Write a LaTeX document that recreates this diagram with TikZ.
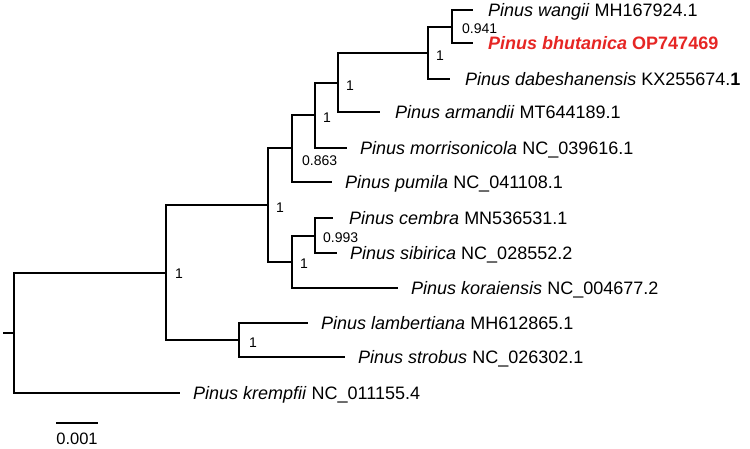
\documentclass[tikz,border=0pt]{standalone}
\usepackage{fontspec}
\setmainfont{Liberation Sans}
\usetikzlibrary{positioning,calc}
\definecolor{hlred}{RGB}{230,38,36}
\newcommand{\taxon}[2]{\textit{Pinus #1} #2}

\begin{document}
\begin{tikzpicture}[x=1pt, y=-1pt,
  branch/.style={line width=2.6pt},
  leaf/.style={font=\fontsize{18}{20}\selectfont, inner sep=0pt,
               text height=12.9pt, text depth=0pt},
  supp/.style={font=\fontsize{14}{16}\selectfont, inner sep=0pt,
               text height=10pt, text depth=0pt, anchor=west},
  node distance=13pt]
\useasboundingbox (0,0) rectangle (750,448);
% internal nodes
\coordinate (r)   at (3,333);
\coordinate (n0)  at (14,333);
\coordinate (n1)  at (166,273);
\coordinate (n2)  at (268,205);
\coordinate (n3)  at (239,340);
\coordinate (n4)  at (292,148);
\coordinate (n5)  at (292,262);
\coordinate (n6)  at (315,115);
\coordinate (n7)  at (338,83);
\coordinate (n8)  at (428,53);
\coordinate (n9)  at (452,27);
\coordinate (n10) at (315,236);
% tips
\coordinate (t1)  at (473,10);
\coordinate (t2)  at (473,43);
\coordinate (t3)  at (450,79);
\coordinate (t4)  at (380,112);
\coordinate (t5)  at (347,148);
\coordinate (t6)  at (332,182);
\coordinate (t7)  at (333,218);
\coordinate (t8)  at (337,253);
\coordinate (t9)  at (398,288);
\coordinate (t10) at (308,323);
\coordinate (t11) at (345,357);
\coordinate (t12) at (180,393);
% branches
\draw[branch] (r) -- (n0);
\draw[branch] (n0) |- (n1) (n0) |- (t12);
\draw[branch] (n1) |- (n2) (n1) |- (n3);
\draw[branch] (n3) |- (t10) (n3) |- (t11);
\draw[branch] (n2) |- (n4) (n2) |- (n5);
\draw[branch] (n4) |- (n6) (n4) |- (t6);
\draw[branch] (n6) |- (n7) (n6) |- (t5);
\draw[branch] (n7) |- (n8) (n7) |- (t4);
\draw[branch] (n8) |- (n9) (n8) |- (t3);
\draw[branch] (n9) |- (t1) (n9) |- (t2);
\draw[branch] (n5) |- (n10) (n5) |- (t9);
\draw[branch] (n10) |- (t7) (n10) |- (t8);
% taxa
\node[leaf, right=15pt of t1] (l1) {\taxon{wangii}{MH167924.1}};
\node[leaf, right=15pt of t2, text=hlred] (l2) {\bfseries\taxon{bhutanica}{OP747469}};
\node[leaf, right=15pt of t3] (l3) {\taxon{dabeshanensis}{KX255674.\textbf{1}}};
\node[leaf, right=15pt of t4] (l4) {\taxon{armandii}{MT644189.1}};
\node[leaf, right=of t5] (l5) {\taxon{morrisonicola}{NC\_039616.1}};
\node[leaf, right=of t6] (l6) {\taxon{pumila}{NC\_041108.1}};
\node[leaf, right=16pt of t7] (l7) {\taxon{cembra}{MN536531.1}};
\node[leaf, right=of t8] (l8) {\taxon{sibirica}{NC\_028552.2}};
\node[leaf, right=of t9] (l9) {\taxon{koraiensis}{NC\_004677.2}};
\node[leaf, right=of t10] (l10) {\taxon{lambertiana}{MH612865.1}};
\node[leaf, right=of t11] (l11) {\taxon{strobus}{NC\_026302.1}};
\node[leaf, right=of t12] (l12) {\taxon{krempfii}{NC\_011155.4}};
% support values
\node[supp] (b9)  at ($(n9)+(10,1)$)  {0.941};
\node[supp] (b8)  at ($(n8)+(8,2)$)   {1};
\node[supp] (b7)  at ($(n7)+(8,2)$)   {1};
\node[supp] (b6)  at ($(n6)+(8,2)$)   {1};
\node[supp] (b4)  at ($(n4)+(10,12)$) {0.863};
\node[supp] (b2)  at ($(n2)+(8,2)$)   {1};
\node[supp] (b10) at ($(n10)+(8,1)$)  {0.993};
\node[supp] (b5)  at ($(n5)+(8,1)$)   {1};
\node[supp] (b1)  at ($(n1)+(9,0)$)   {1};
\node[supp] (b3)  at ($(n3)+(10,2)$)  {1};
% scale bar
\coordinate (s1) at (56,423);
\coordinate (s2) at (98,423);
\draw[line width=1.7pt] (s1) -- (s2);
\node[font=\fontsize{16.5}{18}\selectfont, inner sep=0pt, text height=11.8pt,
      text depth=0pt, anchor=north] (sl) at ($(s1)!0.5!(s2)+(0,9)$) {0.001};
\end{tikzpicture}
\end{document}
